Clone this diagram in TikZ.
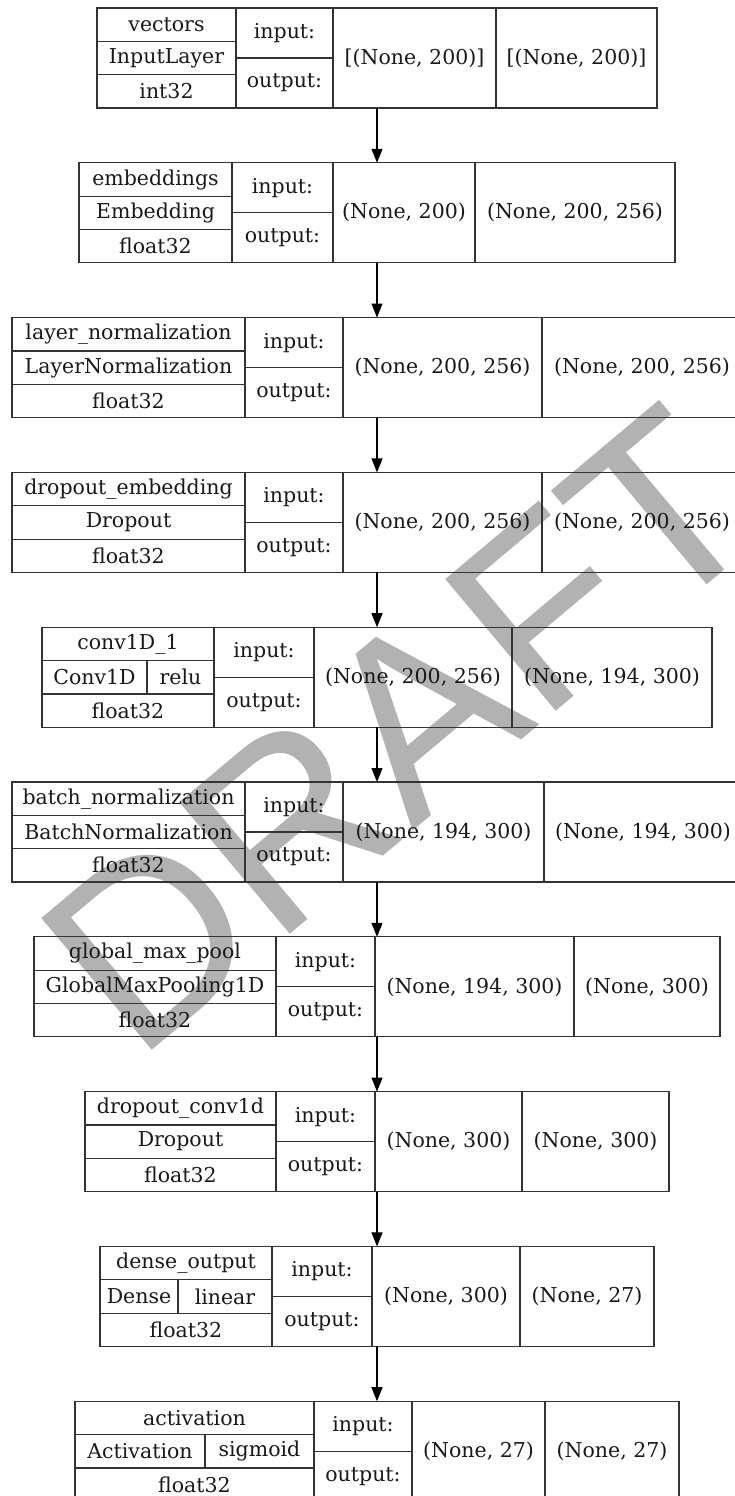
\documentclass[tikz,border=0pt]{standalone}
\usepackage{fontspec}
\setmainfont{DejaVu Serif}
\newfontfamily\wmfont{Liberation Sans}
\usetikzlibrary{arrows.meta}

% A Keras-style layer record: frame, dividers and the input:/output: column.
% #1 id, #2 top edge, #3 left edge, #4 end of name column,
% #5 end of input/output column, #6 end of first shape column
\newcommand\kframe[6]{%
  \def\kt{#2}\def\kl{#3}\def\ka{#4}\def\kb{#5}\def\kc{#6}%
  \pgfmathsetmacro\kr{754-#3}%
  \node[kbox, minimum width={754-2*#3}] (#1) at (377,{#2+50}) {};
  \draw[kline] (#4,#2) -- (#4,{#2+100}) (#5,#2) -- (#5,{#2+100})
               (#6,#2) -- (#6,{#2+100});
  \draw[kline] (#3,{#2+33.3}) -- (#4,{#2+33.3})
               (#3,{#2+66.7}) -- (#4,{#2+66.7})
               (#4,{#2+50}) -- (#5,{#2+50});
  \node[ktext] (#1in)  at ({(#4+#5)/2},{#2+25}) {input:};
  \node[ktext] (#1out) at ({(#4+#5)/2},{#2+75}) {output:};
}
% name / class / dtype rows of the first column
\newcommand\kinfo[4]{%
  \node[ktext] (#1name)  at ({(\kl+\ka)/2},{\kt+16.7}) {#2};
  \node[ktext] (#1class) at ({(\kl+\ka)/2},{\kt+50})   {#3};
  \node[ktext] (#1dtype) at ({(\kl+\ka)/2},{\kt+83.3}) {#4};
}
% same, with the middle row split into class | activation at x = #5
\newcommand\kinfoact[6]{%
  \draw[kline] (#5,{\kt+33.3}) -- (#5,{\kt+66.7});
  \node[ktext] (#1name)  at ({(\kl+\ka)/2},{\kt+16.7}) {#2};
  \node[ktext] (#1class) at ({(\kl+#5)/2},{\kt+50})    {#3};
  \node[ktext] (#1act)   at ({(#5+\ka)/2},{\kt+50})    {#4};
  \node[ktext] (#1dtype) at ({(\kl+\ka)/2},{\kt+83.3}) {#6};
}
% input and output shapes
\newcommand\kshapes[3]{%
  \node[ktext] (#1shin)  at ({(\kb+\kc)/2},{\kt+50}) {#2};
  \node[ktext] (#1shout) at ({(\kc+\kr)/2},{\kt+50}) {#3};
}

\begin{document}
\begin{tikzpicture}[x=1pt,y=-1pt,
  kbox/.style={draw=black!80, line width=1.2pt, rectangle, inner sep=0pt,
    outer sep=0pt, minimum height=100pt},
  kline/.style={draw=black!80, line width=1.2pt},
  ktext/.style={inner sep=0pt, font=\fontsize{20.5}{24}\selectfont, text=black!90},
  flow/.style={draw=black, line width=1.1pt,
    -{Triangle[length=14pt,width=11pt]}},
  watermark/.style={text=black!30, font=\wmfont\fontsize{250}{250}\selectfont,
    rotate=40, inner sep=0pt}]
\useasboundingbox (0,0) rectangle (734,1496);

% watermark behind everything
\node[watermark] (draft) at (400,730) {DRAFT};

\kframe{L1}{8}{97}{236}{333}{496}
\kinfo{L1}{vectors}{InputLayer}{int32}
\kshapes{L1}{[(None, 200)]}{[(None, 200)]}

\kframe{L2}{162.8}{79}{232}{333}{475}
\kinfo{L2}{embeddings}{Embedding}{float32}
\kshapes{L2}{(None, 200)}{(None, 200, 256)}

\kframe{L3}{317.6}{12}{245}{343}{542}
\kinfo{L3}{layer\_normalization}{LayerNormalization}{float32}
\kshapes{L3}{(None, 200, 256)}{(None, 200, 256)}

\kframe{L4}{472.4}{12}{245}{343}{542}
\kinfo{L4}{dropout\_embedding}{Dropout}{float32}
\kshapes{L4}{(None, 200, 256)}{(None, 200, 256)}

\kframe{L5}{627.2}{42}{214}{314}{512}
\kinfoact{L5}{conv1D\_1}{Conv1D}{relu}{147}{float32}
\kshapes{L5}{(None, 200, 256)}{(None, 194, 300)}

\kframe{L6}{782}{12}{245}{343}{544}
\kinfo{L6}{batch\_normalization}{BatchNormalization}{float32}
\kshapes{L6}{(None, 194, 300)}{(None, 194, 300)}

\kframe{L7}{936.8}{34}{276}{375}{574}
\kinfo{L7}{global\_max\_pool}{GlobalMaxPooling1D}{float32}
\kshapes{L7}{(None, 194, 300)}{(None, 300)}

\kframe{L8}{1091.6}{85}{276}{375}{522}
\kinfo{L8}{dropout\_conv1d}{Dropout}{float32}
\kshapes{L8}{(None, 300)}{(None, 300)}

\kframe{L9}{1246.4}{100}{272}{372}{520}
\kinfoact{L9}{dense\_output}{Dense}{linear}{178}{float32}
\kshapes{L9}{(None, 300)}{(None, 27)}

\kframe{L10}{1401.2}{75}{314}{412}{545}
\kinfoact{L10}{activation}{Activation}{sigmoid}{205}{float32}
\kshapes{L10}{(None, 27)}{(None, 27)}

% connectors between consecutive layers
\foreach \a/\b in {L1/L2,L2/L3,L3/L4,L4/L5,L5/L6,L6/L7,L7/L8,L8/L9,L9/L10}
  \draw[flow] (\a.south) -- (\b.north);
\end{tikzpicture}
\end{document}
